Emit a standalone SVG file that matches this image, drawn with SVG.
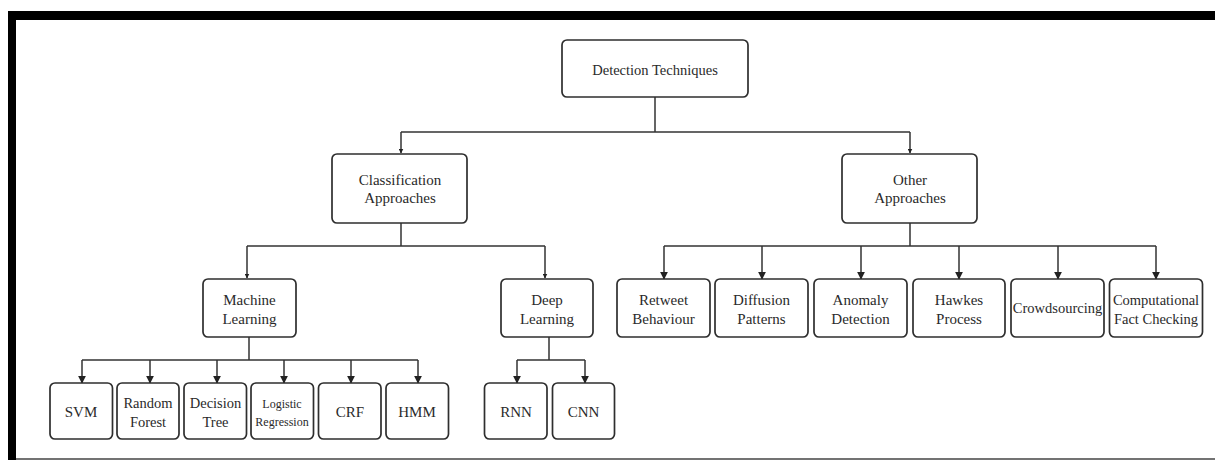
<svg xmlns="http://www.w3.org/2000/svg" width="1215" height="460" viewBox="0 0 1215 460">
  <defs>
    <marker id="arrow" viewBox="0 0 10 10" refX="9" refY="5" markerWidth="8" markerHeight="8" markerUnits="userSpaceOnUse" orient="auto">
      <path d="M0,0 L10,5 L0,10 Z" fill="#222"/>
    </marker>
    <marker id="arrowSmall" viewBox="0 0 10 10" refX="9" refY="5" markerWidth="5" markerHeight="5" markerUnits="userSpaceOnUse" orient="auto">
      <path d="M0,0 L10,5 L0,10 Z" fill="#222"/>
    </marker>
  </defs>
  <style>
    .box { fill: #ffffff; stroke: #2e2e2e; stroke-width: 1.7; }
    .lbl { font-family: "Liberation Serif", "Times New Roman", serif; fill: #2a2a2a; text-anchor: middle; }
    .l15 { font-size: 15px; }
    .l14 { font-size: 14.5px; }
    .l12 { font-size: 12px; }
    .wire { fill: none; stroke: #333333; stroke-width: 1.5; }
  </style>

  <!-- frame -->
  <rect x="0" y="0" width="1215" height="460" fill="#ffffff"/>
  <rect x="8" y="11" width="1207" height="9" fill="#000000"/>
  <rect x="8" y="11" width="8" height="449" fill="#000000"/>
  <line x1="16" y1="459" x2="1215" y2="459" stroke="#444444" stroke-width="1.5"/>

  <!-- connectors -->
  <g id="connectors">
    <path class="wire" d="M655,97 V132 M401,132 H910"/>
    <path class="wire" d="M401,132 V153" marker-end="url(#arrowSmall)"/>
    <path class="wire" d="M910,132 V153" marker-end="url(#arrowSmall)"/>

    <path class="wire" d="M401,223 V246 M247,246 H545"/>
    <path class="wire" d="M247,246 V278" marker-end="url(#arrowSmall)"/>
    <path class="wire" d="M545,246 V278" marker-end="url(#arrowSmall)"/>

    <path class="wire" d="M910,223 V246 M664,246 H1156"/>
    <path class="wire" d="M664,246 V279" marker-end="url(#arrow)"/>
    <path class="wire" d="M762,246 V279" marker-end="url(#arrow)"/>
    <path class="wire" d="M861,246 V279" marker-end="url(#arrow)"/>
    <path class="wire" d="M959,246 V279" marker-end="url(#arrow)"/>
    <path class="wire" d="M1058,246 V279" marker-end="url(#arrow)"/>
    <path class="wire" d="M1156,246 V279" marker-end="url(#arrow)"/>

    <path class="wire" d="M249,337 V360 M82,360 H418"/>
    <path class="wire" d="M82,360 V383" marker-end="url(#arrow)"/>
    <path class="wire" d="M150,360 V383" marker-end="url(#arrow)"/>
    <path class="wire" d="M217,360 V383" marker-end="url(#arrow)"/>
    <path class="wire" d="M284,360 V383" marker-end="url(#arrow)"/>
    <path class="wire" d="M351,360 V383" marker-end="url(#arrow)"/>
    <path class="wire" d="M418,360 V383" marker-end="url(#arrow)"/>

    <path class="wire" d="M549,337 V360 M517,360 H585"/>
    <path class="wire" d="M517,360 V383" marker-end="url(#arrow)"/>
    <path class="wire" d="M585,360 V383" marker-end="url(#arrow)"/>
  </g>

  <!-- root -->
  <g id="detection-techniques">
    <rect class="box" x="562" y="40" width="186" height="57" rx="5"/>
    <text class="lbl l14" x="655" y="75">Detection Techniques</text>
  </g>

  <!-- second level -->
  <g id="classification-approaches">
    <rect class="box" x="332" y="154" width="135" height="69" rx="5"/>
    <text class="lbl l15" x="400" y="185">Classification</text>
    <text class="lbl l15" x="400" y="203">Approaches</text>
  </g>
  <g id="other-approaches">
    <rect class="box" x="842" y="154" width="135" height="69" rx="5"/>
    <text class="lbl l15" x="910" y="185">Other</text>
    <text class="lbl l15" x="910" y="203">Approaches</text>
  </g>

  <!-- third level -->
  <g id="machine-learning">
    <rect class="box" x="203" y="279" width="93" height="58" rx="5"/>
    <text class="lbl l15" x="249.5" y="305">Machine</text>
    <text class="lbl l15" x="249.5" y="324">Learning</text>
  </g>
  <g id="deep-learning">
    <rect class="box" x="501" y="279" width="92" height="58" rx="5"/>
    <text class="lbl l15" x="547" y="305">Deep</text>
    <text class="lbl l15" x="547" y="324">Learning</text>
  </g>

  <g id="retweet-behaviour">
    <rect class="box" x="617" y="279" width="93" height="58" rx="5"/>
    <text class="lbl l15" x="663.5" y="305">Retweet</text>
    <text class="lbl l15" x="663.5" y="324">Behaviour</text>
  </g>
  <g id="diffusion-patterns">
    <rect class="box" x="715" y="279" width="93" height="58" rx="5"/>
    <text class="lbl l15" x="761.5" y="305">Diffusion</text>
    <text class="lbl l15" x="761.5" y="324">Patterns</text>
  </g>
  <g id="anomaly-detection">
    <rect class="box" x="814" y="279" width="93" height="58" rx="5"/>
    <text class="lbl l15" x="860.5" y="305">Anomaly</text>
    <text class="lbl l15" x="860.5" y="324">Detection</text>
  </g>
  <g id="hawkes-process">
    <rect class="box" x="913" y="279" width="92" height="58" rx="5"/>
    <text class="lbl l15" x="959" y="305">Hawkes</text>
    <text class="lbl l15" x="959" y="324">Process</text>
  </g>
  <g id="crowdsourcing">
    <rect class="box" x="1011" y="279" width="93" height="58" rx="5"/>
    <text class="lbl l14" x="1057.5" y="313">Crowdsourcing</text>
  </g>
  <g id="computational-fact-checking">
    <rect class="box" x="1109.5" y="279" width="93" height="58" rx="5"/>
    <text class="lbl l14" x="1156" y="305">Computational</text>
    <text class="lbl l14" x="1156" y="324">Fact Checking</text>
  </g>

  <!-- leaves -->
  <g id="svm">
    <rect class="box" x="50" y="383" width="62.5" height="56" rx="5"/>
    <text class="lbl l15" x="81" y="417">SVM</text>
  </g>
  <g id="random-forest">
    <rect class="box" x="117" y="383" width="62" height="56" rx="5"/>
    <text class="lbl l14" x="148" y="408">Random</text>
    <text class="lbl l14" x="148" y="427">Forest</text>
  </g>
  <g id="decision-tree">
    <rect class="box" x="184" y="383" width="62.5" height="56" rx="5"/>
    <text class="lbl l14" x="215.5" y="408">Decision</text>
    <text class="lbl l14" x="215.5" y="427">Tree</text>
  </g>
  <g id="logistic-regression">
    <rect class="box" x="251" y="383" width="62.5" height="56" rx="5"/>
    <text class="lbl l12" x="282" y="408">Logistic</text>
    <text class="lbl l12" x="282" y="426">Regression</text>
  </g>
  <g id="crf">
    <rect class="box" x="318.5" y="383" width="62.5" height="56" rx="5"/>
    <text class="lbl l15" x="350" y="417">CRF</text>
  </g>
  <g id="hmm">
    <rect class="box" x="386" y="383" width="62.5" height="56" rx="5"/>
    <text class="lbl l15" x="417" y="417">HMM</text>
  </g>
  <g id="rnn">
    <rect class="box" x="484.5" y="383" width="62.5" height="56" rx="5"/>
    <text class="lbl l15" x="516" y="417">RNN</text>
  </g>
  <g id="cnn">
    <rect class="box" x="552.5" y="383" width="62" height="56" rx="5"/>
    <text class="lbl l15" x="583.5" y="417">CNN</text>
  </g>
</svg>
